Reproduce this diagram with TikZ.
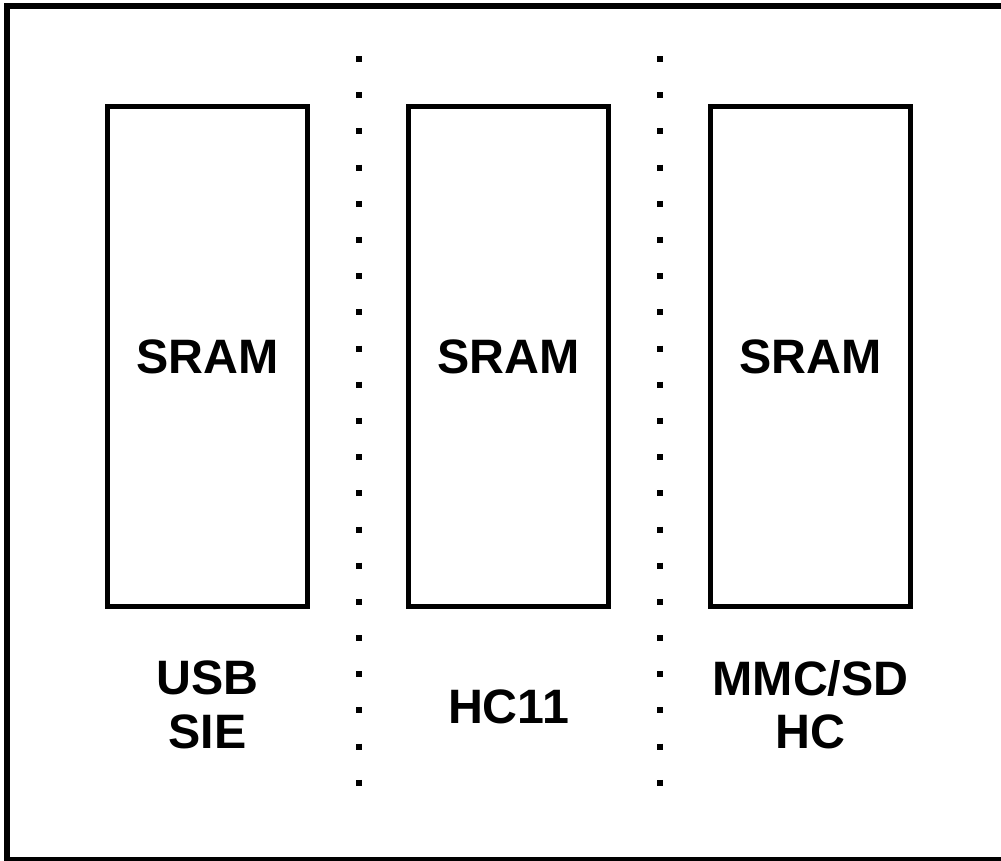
\documentclass[tikz,border=0pt]{standalone}
\usepackage{fontspec}
\setmainfont{Liberation Sans}
\usepackage{tikz}
\usetikzlibrary{positioning}
\tikzstyle{frame} = [draw=black, line width=0.12cm]
\tikzstyle{memory} = [rectangle, minimum width=4.02cm, minimum height=10.02cm, text centered, draw=black, line width=0.1cm, font=\bfseries\fontsize{27.5}{30.7}\selectfont]
\tikzstyle{unit} = [align=center, font=\bfseries\fontsize{27.5}{30.4}\selectfont]
\tikzstyle{separator} = [draw=black, line width=0.12cm, dash pattern=on 0.12cm off 0.604cm]

\begin{document}
\begin{tikzpicture}[x=0.02cm, y=-0.02cm, node distance=6.97cm]
\useasboundingbox (0,0) rectangle (1001,860);
% Draw frame
\draw [frame] (7,6) rectangle (1005,860);
% Draw shapes
\node (sram_usb) [memory] at (207.5,356.5) {SRAM};
\node (sram_hc11) [memory] at (508.5,356.5) {SRAM};
\node (sram_mmc) [memory] at (810.5,356.5) {SRAM};
\node (usb) [unit, below of = sram_usb] {USB\\SIE};
\node (hc11) [unit, below of = sram_hc11, node distance=7.0cm] {HC11};
\node (mmc) [unit, below of = sram_mmc] {MMC/SD\\HC};
% Draw separators
\coordinate (sep_1_top) at (359,56);
\coordinate (sep_1_bot) at (359,786);
\coordinate (sep_2_top) at (660,56);
\coordinate (sep_2_bot) at (660,786);
\draw [separator] (sep_1_top) -- (sep_1_bot);
\draw [separator] (sep_2_top) -- (sep_2_bot);
\end{tikzpicture}
\end{document}
